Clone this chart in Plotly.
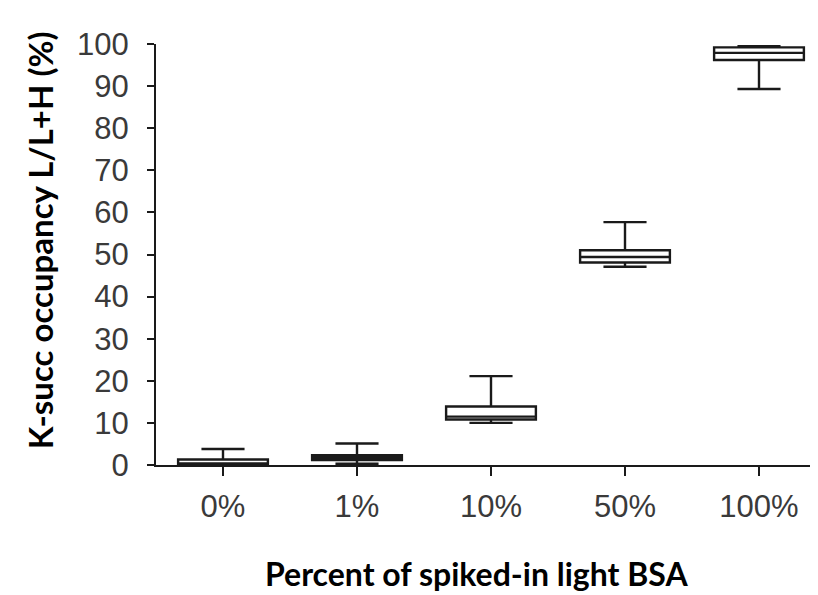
import plotly.graph_objects as go

categories = ["0%", "1%", "10%", "50%", "100%"]
lower_whisker = [0.0, 0.3, 10.0, 47.1, 89.3]
q1_vals = [0.1, 1.2, 10.8, 48.1, 96.2]
median_vals = [0.35, 1.75, 11.5, 49.4, 97.9]
q3_vals = [1.3, 2.3, 13.9, 51.0, 99.2]
upper_whisker = [3.8, 5.1, 21.1, 57.7, 99.5]
y_ticks = list(range(0, 101, 10))
x_title = "Percent of spiked-in light BSA"
y_title = "K-succ occupancy L/L+H (%)"

fig = go.Figure()
fig.add_trace(go.Box(
    x=categories,
    q1=q1_vals, median=median_vals, q3=q3_vals,
    lowerfence=lower_whisker, upperfence=upper_whisker,
    fillcolor="white",
    line=dict(color="#1a1a1a", width=2.4),
    width=0.67,
    whiskerwidth=0.48,
    boxpoints=False,
    showlegend=False,
    hoverinfo="skip",
))

fig.add_annotation(
    text="<b>" + x_title + "</b>", xref="paper", yref="paper",
    x=0.478, y=-0.258, xanchor="center", yanchor="middle",
    showarrow=False,
    font=dict(family="Lato, Open Sans, sans-serif", size=32, color="#000000"),
)
fig.add_annotation(
    text="<b>" + y_title + "</b>", xref="paper", yref="paper",
    x=-0.173, y=0.534, xanchor="center", yanchor="middle", textangle=-90,
    showarrow=False,
    font=dict(family="Lato, Open Sans, sans-serif", size=33, color="#000000"),
)

fig.update_layout(
    width=818, height=595,
    margin=dict(l=148, r=0, t=36, b=138),
    plot_bgcolor="white", paper_bgcolor="white",
    font=dict(family="Liberation Sans, Arial, sans-serif", color="#3a3a3a"),
    xaxis=dict(
        type="category", range=[-0.5, 4.5],
        showline=True, linecolor="#1a1a1a", linewidth=2,
        ticks="outside", ticklen=9, tickwidth=2, tickcolor="#1a1a1a",
        tickfont=dict(size=31, color="#3a3a3a"),
        ticklabelstandoff=4,
        showgrid=False, zeroline=False,
    ),
    yaxis=dict(
        range=[0, 100], tickvals=y_ticks,
        showline=True, linecolor="#1a1a1a", linewidth=2,
        ticks="outside", ticklen=7, tickwidth=2, tickcolor="#1a1a1a",
        tickfont=dict(size=31, color="#3a3a3a"),
        ticklabelstandoff=12,
        showgrid=False, zeroline=False,
    ),
)

fig.write_html("out.html")
